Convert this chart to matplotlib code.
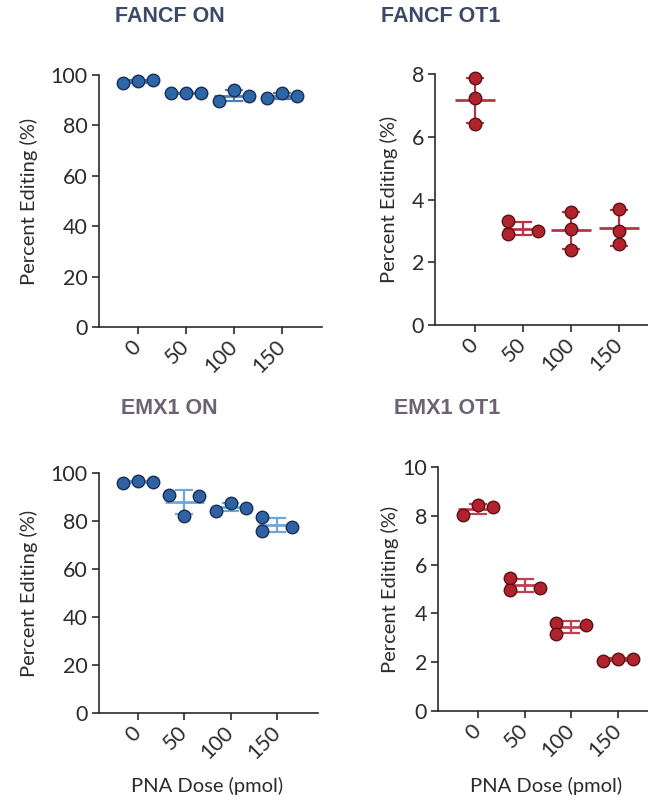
import numpy as np
import matplotlib
matplotlib.use("Agg")
import matplotlib.pyplot as plt

# ---------------- data ----------------
doses = ["0", "50", "100", "150"]
fancf_on = [[96.7, 97.7, 98.0], [93.0, 93.0, 93.0], [89.8, 94.0, 91.7], [90.7, 93.0, 91.7]]
fancf_ot1 = [[7.86, 7.22, 6.42], [3.30, 2.90, 3.00], [3.60, 3.05, 2.40], [3.70, 3.00, 2.58]]
emx1_on = [[95.7, 96.7, 96.1], [91.0, 90.5, 82.2], [84.0, 87.4, 85.6], [81.5, 75.8, 77.6]]
emx1_ot1 = [[8.05, 8.45, 8.35], [5.45, 4.95, 5.05], [3.62, 3.16, 3.54], [2.05, 2.15, 2.15]]

titles = ["FANCF ON", "FANCF OT1", "EMX1 ON", "EMX1 OT1"]
y_max = [100, 8, 100, 10]
y_step = [20, 2, 20, 2]
y_label = "Percent Editing (%)"
x_label = "PNA Dose (pmol)"

plt.rcParams['font.family'] = ['Lato', 'DejaVu Sans']

W, H = 648, 801
fig = plt.figure(figsize=(W / 100, H / 100), dpi=100)
fig.patch.set_facecolor("white")


def add_axes_px(left, top, right, bottom):
    return fig.add_axes([left / W, (H - bottom) / H, (right - left) / W, (bottom - top) / H])


panels = [
    dict(data=fancf_on, box=(99, 75, 322, 327), xlim=(-0.8125, 3.833),
         fc="#2f66a8", ec="#1a2d55", lc="#4d7db5", tcol="#3b4a68"),
    dict(data=fancf_ot1, box=(435, 74, 648, 325), xlim=(-0.833, 3.6),
         fc="#b0232d", ec="#5a1014", lc="#b83444", tcol="#3b4a68"),
    dict(data=emx1_on, box=(99, 473, 318, 713), xlim=(-0.84, 3.885),
         fc="#2f62a3", ec="#1a2d55", lc="#6ea8d8", tcol="#6b6272"),
    dict(data=emx1_ot1, box=(438, 467, 648, 711), xlim=(-0.857, 3.643),
         fc="#b0232d", ec="#5a1014", lc="#c04050", tcol="#6b6272"),
]

title_pos = [(170, 17), (441, 17), (169, 408), (447, 408)]
ylabel_x = [29, 389, 29, 390]
xlabel_pos = [(207, 786), (546, 786)]


def swarm_offsets(vals, ax, thr=11.0):
    ypx = ax.transData.transform([(0, v) for v in vals])[:, 1]
    n = len(vals)
    adj = [[(i != j) and abs(ypx[i] - ypx[j]) < thr for j in range(n)] for i in range(n)]
    offs = [0.0] * n
    seen = [False] * n
    for s in range(n):
        if seen[s]:
            continue
        comp, stack = [], [s]
        seen[s] = True
        while stack:
            k = stack.pop()
            comp.append(k)
            for j in range(n):
                if adj[k][j] and not seen[j]:
                    seen[j] = True
                    stack.append(j)
        comp.sort()
        m = len(comp)
        if m == 1:
            continue
        deg = [sum(adj[c][d] for d in comp) for c in comp]
        if all(d == m - 1 for d in deg):
            for c, o in zip(comp, np.linspace(-1, 1, m)):
                offs[c] = o
        else:
            mx = max(deg)
            for c, d in zip(comp, deg):
                offs[c] = 1.0 if d == mx else -1.0
    return offs


for idx, p in enumerate(panels):
    ax = add_axes_px(*p["box"])
    ax.set_xlim(*p["xlim"])
    ax.set_ylim(0, y_max[idx])
    ax.set_yticks(np.arange(0, y_max[idx] + 0.001, y_step[idx]))
    ax.set_xticks(range(len(doses)))
    ax.set_xticklabels(doses, rotation=45, ha="right", va="center",
                       rotation_mode="anchor")
    for s in ["top", "right"]:
        ax.spines[s].set_visible(False)
    for s in ["left", "bottom"]:
        ax.spines[s].set_color("#2b2b2b")
        ax.spines[s].set_linewidth(1.2)
        ax.spines[s].set_clip_on(False)
    ax.tick_params(axis="both", length=5, width=1.2, color="#2b2b2b",
                   labelsize=15.5, labelcolor="#2b2b2b")
    ax.tick_params(axis="x", pad=7)
    ax.tick_params(axis="y", pad=3)
    ax.set_facecolor("none")

    # pixel -> data conversion for horizontal swarm spacing
    x0 = ax.transData.transform((0, 0))[0]
    x1 = ax.transData.transform((1, 0))[0]
    dx = 15.0 / (x1 - x0)

    for i, vals in enumerate(p["data"]):
        vals = np.array(vals)
        mean = vals.mean()
        sd = vals.std(ddof=1)
        ax.hlines(mean, i - 0.42, i + 0.42, color=p["lc"], lw=2.0, zorder=2)
        ax.vlines(i, mean - sd, mean + sd, color=p["lc"], lw=1.6, zorder=2)
        ax.hlines([mean - sd, mean + sd], i - 0.19, i + 0.19, color=p["lc"], lw=1.6, zorder=2)
        offs = swarm_offsets(vals, ax)
        xs = [i + o * dx for o in offs]
        ax.plot(xs, vals, "o", ms=9.0, mfc=p["fc"], mec=p["ec"], mew=1.0,
                zorder=3, clip_on=False)

    tx, ty = title_pos[idx]
    fig.text(tx / W, 1 - ty / H, titles[idx], ha="center", va="center",
             fontsize=15.5, fontweight="bold", color=p["tcol"],
             family=["Liberation Sans", "DejaVu Sans"])
    box = p["box"]
    fig.text(ylabel_x[idx] / W, 1 - ((box[1] + box[3]) / 2) / H, y_label,
             rotation=90, ha="center", va="center", fontsize=14.5, color="#2b2b2b")

for (lx, ly) in xlabel_pos:
    fig.text(lx / W, 1 - ly / H, x_label, ha="center", va="center",
             fontsize=14.5, color="#2b2b2b")

fig.savefig("out.png", dpi=100, facecolor="white")
